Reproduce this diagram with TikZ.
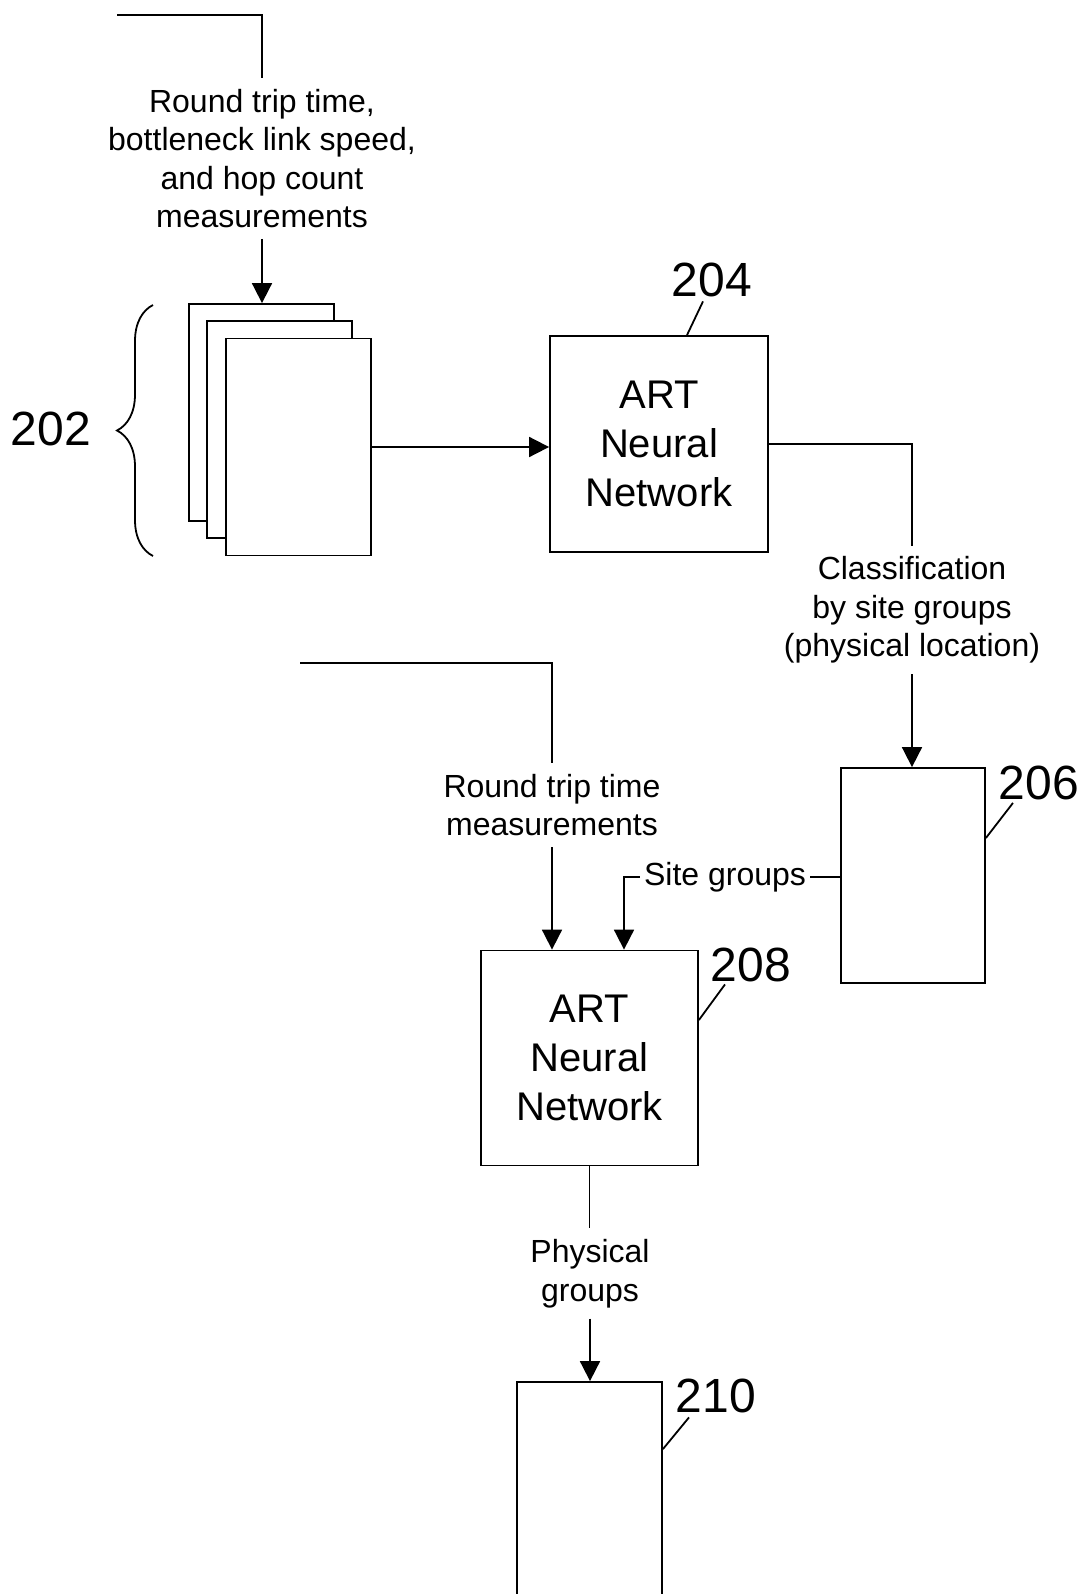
\documentclass[tikz,border=0pt]{standalone}
\usepackage{fontspec}
\setmainfont{Liberation Sans}
\usetikzlibrary{arrows.meta,positioning,calc,decorations.pathreplacing}
\tikzset{
  box/.style={rectangle, draw, line width=0.9pt, fill=white, inner sep=0pt, align=center,
              font=\fontsize{20}{24.5}\selectfont},
  sheet/.style={box, minimum width=72.5pt, minimum height=108.5pt},
  netbox/.style={box, minimum width=108.5pt, minimum height=107.5pt},
  outbox/.style={box, minimum width=72pt, minimum height=107.5pt},
  note/.style={align=center, inner sep=5.3pt, font=\fontsize{16}{19.25}\selectfont},
  refnum/.style={inner sep=0pt, font=\fontsize{24}{28}\selectfont},
  wire/.style={line width=0.9pt},
  flow/.style={wire, -{Triangle[length=10pt, width=10pt]}},
}

\begin{document}
\begin{tikzpicture}[x=0.5pt, y=-0.5pt]
  \useasboundingbox (0,0) rectangle (1084,1594);
  \clip (0,0) rectangle (1084,1594);
  % stack of measurement sheets
  \node[sheet] (sheetA) at (261.5,412.5) {};
  \node[sheet] (sheetB) at (279.5,429.5) {};
  \node[sheet] (sheetC) at (298.5,447) {};
  \node[netbox, minimum width=109pt, minimum height=108pt] (art1) at (659,444) {ART\\Neural\\Network};
  \node[outbox] (sites) at (913,875.5) {};
  \node[netbox] (art2) at (589.5,1058) {ART\\Neural\\Network};
  \node[outbox, minimum width=72.5pt, minimum height=118pt] (phys) at (589.5,1500) {};

  \node[note] (meas1) at (262,158.5) {Round trip time,\\bottleneck link speed,\\and hop count\\measurements};
  \node[note] (class) at (912,610) {Classification\\by site groups\\(physical location)};
  \node[note] (meas2) at (552,805) {Round trip time\\measurements};
  \node[note, inner sep=2pt] (sitelbl) at (725,877) {Site groups};
  \node[note] (physlbl) at (590,1273.5) {Physical\\groups};
  \coordinate (in1) at (117,15);
  \coordinate (in2) at (300,663);

  \draw[wire] (in1) -| (meas1.north);
  \draw[flow] (meas1.south) -- (meas1.south |- sheetA.north);
  \draw[flow] (sheetC.east) -- (sheetC.east -| art1.west);
  \draw[wire] (art1.east) -| (class.north);
  \draw[flow] (class.south) -- (class.south |- sites.north);
  \draw[wire] (in2) -| (meas2.north);
  \draw[flow] (meas2.south) -- (meas2.south |- art2.north);
  \draw[wire] (sitelbl.east) -- (sitelbl.east -| sites.west);
  \draw[flow] (sitelbl.west) -| ([xshift=17.25pt]art2.north);
  \draw[wire] (art2.south) -- (art2.south |- physlbl.north);
  \draw[flow] (physlbl.south) -- (physlbl.south |- phys.north);

  % reference numerals
  \node[refnum] (n202) at (51,429) {202};
  \node[refnum] (n204) at (712,280) {204};
  \node[refnum] (n206) at (1039,783) {206};
  \node[refnum] (n208) at (751,965) {208};
  \node[refnum] (n210) at (716,1396) {210};
  \draw[wire, decorate, decoration={brace, amplitude=18pt}] (153,556) -- (153,305);
  \draw[wire] ([xshift=14pt]art1.north) -- ([xshift=-4.5pt, yshift=-2pt]n204.south);
  \draw[wire] ([yshift=18.75pt]sites.east) -- ([xshift=-13pt, yshift=-1.25pt]n206.south);
  \draw[wire] ([yshift=19pt]art2.east) -- ([xshift=-13pt, yshift=-1pt]n208.south);
  \draw[wire] ([yshift=-34pt]phys.north east) -- ([xshift=-13.5pt, yshift=-2pt]n210.south);
\end{tikzpicture}
\end{document}
